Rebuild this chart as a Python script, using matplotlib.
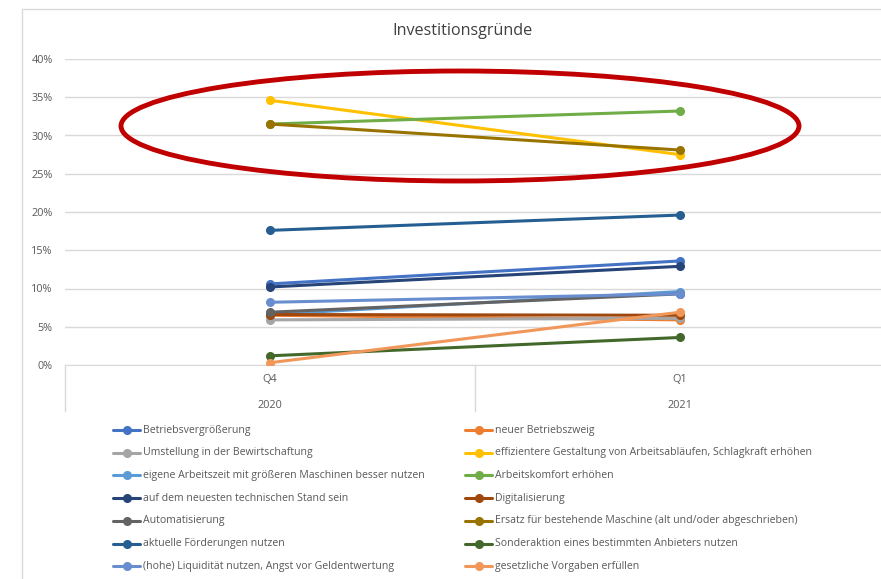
import matplotlib
matplotlib.use('Agg')
import matplotlib.pyplot as plt
import matplotlib.transforms as mtransforms
from matplotlib.lines import Line2D
from matplotlib.patches import Ellipse, Rectangle

plt.rcParams['font.family'] = ['Open Sans', 'DejaVu Sans']

# Daten
quartale = ['Q4', 'Q1']
jahre = ['2020', '2021']
gruende = ['Betriebsvergrößerung', 'neuer Betriebszweig', 'Umstellung in der Bewirtschaftung',
           'effizientere Gestaltung von Arbeitsabläufen, Schlagkraft erhöhen',
           'eigene Arbeitszeit mit größeren Maschinen besser nutzen', 'Arbeitskomfort erhöhen',
           'auf dem neuesten technischen Stand sein', 'Digitalisierung', 'Automatisierung',
           'Ersatz für bestehende Maschine (alt und/oder abgeschrieben)', 'aktuelle Förderungen nutzen',
           'Sonderaktion eines bestimmten Anbieters nutzen', '(hohe) Liquidität nutzen, Angst vor Geldentwertung',
           'gesetzliche Vorgaben erfüllen']
werte_q4_2020 = [10.6, 6.5, 5.9, 34.6, 6.6, 31.5, 10.2, 6.6, 6.9, 31.5, 17.6, 1.2, 8.2, 0.3]
werte_q1_2021 = [13.6, 5.9, 6.1, 27.5, 9.6, 33.2, 12.9, 6.5, 9.3, 28.1, 19.6, 3.6, 9.3, 6.9]
farben = ['#4472C4', '#ED7D31', '#A5A5A5', '#FFC000', '#5B9BD5', '#70AD47',
          '#264478', '#9E480E', '#636363', '#997300', '#255E91', '#43682B',
          '#698ED0', '#F1975A']

W, H = 881, 579
fig = plt.figure(figsize=(W / 100, H / 100), dpi=100)

# Rahmen des Diagrammbereichs
fig.add_artist(Rectangle((22 / W, -0.1), 1.2, (H - 9) / H + 0.1, transform=fig.transFigure,
                         fill=False, edgecolor='#d9d9d9', lw=1))

ax = fig.add_axes([65 / W, (H - 365) / H, 820 / W, 306 / H])
x = [0, 1]
for i in range(len(gruende)):
    ax.plot(x, [werte_q4_2020[i] / 100, werte_q1_2021[i] / 100], color=farben[i], lw=2.2,
            marker='o', markersize=5.5, solid_capstyle='round', zorder=3)

ax.set_xlim(-0.5, 1.5)
ax.set_ylim(0, 0.40)
ax.set_yticks([i * 0.05 for i in range(9)])
ax.set_yticklabels(['%d%%' % (i * 5) for i in range(9)], fontsize=7.8, color='#595959')
ax.tick_params(axis='y', length=0, pad=9)
ax.set_xticks([])
ax.grid(axis='y', color='#d9d9d9', lw=1)
for s in ['top', 'right', 'left']:
    ax.spines[s].set_visible(False)
ax.spines['bottom'].set_color('#d9d9d9')
ax.set_axisbelow(True)

trans = mtransforms.blended_transform_factory(ax.transData, ax.transAxes)
for xi, (q, j) in enumerate(zip(quartale, jahre)):
    ax.text(xi, -15 / 306, q, transform=trans, ha='center', va='center', fontsize=7.8, color='#595959')
    ax.text(xi, -40 / 306, j, transform=trans, ha='center', va='center', fontsize=7.8, color='#595959')
for xd in [-0.5, 0.5, 1.5]:
    ax.plot([xd, xd], [0, -46 / 306], transform=trans, color='#d9d9d9', lw=1, clip_on=False)

# Titel
fig.text(462 / W, 1 - 31 / H, 'Investitionsgründe', ha='center', va='center', fontsize=11.6, color='#404040')

# Legende (zeilenweise, zwei Spalten)
for i, name in enumerate(gruende):
    zeile = i // 2
    spalte = i % 2
    y = 1 - (430 + zeile * 22.7) / H
    x0 = 113 if spalte == 0 else 465
    fig.add_artist(Line2D([x0 / W, (x0 + 27) / W], [y, y], transform=fig.transFigure,
                          color=farben[i], lw=2.2, solid_capstyle='round'))
    fig.add_artist(Line2D([(x0 + 13.5) / W], [y], transform=fig.transFigure,
                          color=farben[i], marker='o', markersize=5.5, lw=0))
    fig.text((x0 + 30) / W, y, name, ha='left', va='center', fontsize=7.6, color='#595959')

# Markierung
ax.add_patch(Ellipse((460 / W, 1 - 126 / H), 678 / W, 110 / H, transform=fig.transFigure,
                     fill=False, edgecolor='#C00000', lw=3.5, zorder=5, clip_on=False))

fig.savefig('out.png', dpi=100)
